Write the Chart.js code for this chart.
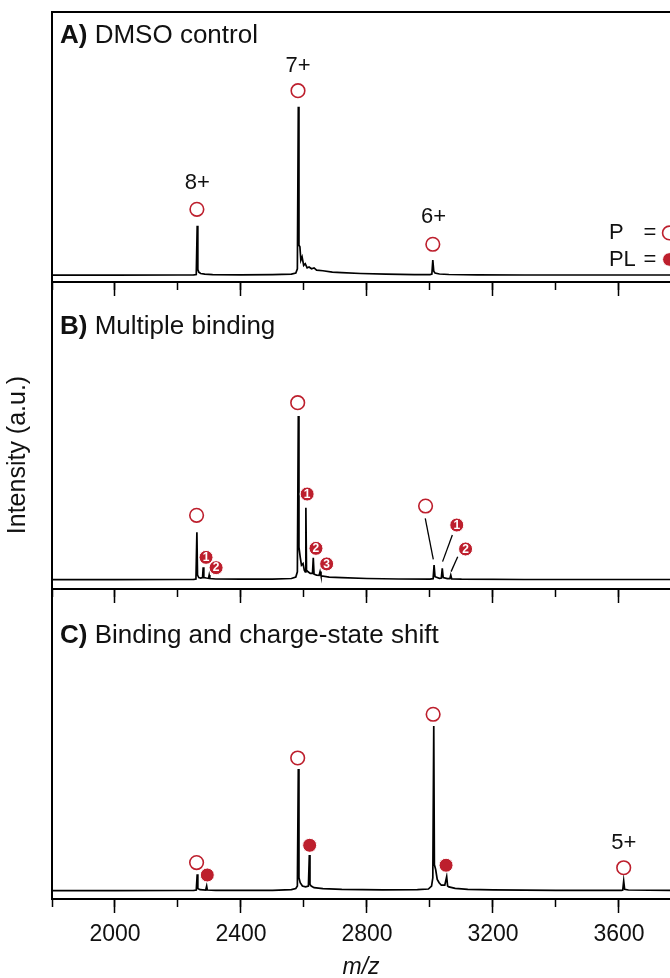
<!DOCTYPE html>
<html>
<head>
<meta charset="utf-8">
<script src="https://cdn.jsdelivr.net/npm/chart.js@4.4.1/dist/chart.umd.min.js"></script>
<style>
  html, body { margin: 0; padding: 0; background: #fff; }
  #wrap { position: relative; width: 670px; height: 978px; overflow: hidden; background: #fff; }
  #wrap canvas { position: absolute; left: 0; top: 0; }
</style>
</head>
<body>
<div id="wrap">
  <canvas id="panelA" width="670" height="978"></canvas>
  <canvas id="panelB" width="670" height="978"></canvas>
  <canvas id="panelC" width="670" height="978"></canvas>
</div>
<script>
// =====================================================
// DATA
// =====================================================

// m/z axis
const MZ_MIN = 1800;
const MZ_MAX = 3762;
const majorTicks = [2000, 2400, 2800, 3200, 3600];
const minorTicks = [1800, 2000, 2200, 2400, 2600, 2800, 3000, 3200, 3400, 3600];

// A) DMSO control
const mzA = [1800, 2000, 2200, 2250, 2258, 2261, 2263, 2266, 2272, 2285,
  2310, 2400, 2500, 2560, 2574, 2579, 2582, 2584, 2587, 2590,
  2594, 2599, 2604, 2610, 2616, 2624, 2632, 2640, 2660, 2690,
  2720, 2780, 2860, 2950, 3000, 3006, 3009, 3012, 3016, 3030,
  3060, 3150, 3300, 3500, 3762];
const intA = [0.2, 0.2, 0.3, 0.4, 0.6, 29.5, 3.5, 2.0, 1.2, 0.8,
  0.5, 0.4, 0.5, 0.8, 1.5, 4, 100, 18, 17, 9,
  11, 6, 7, 4.5, 5, 4, 4.5, 3.2, 2.8, 2.0,
  1.7, 1.2, 0.8, 0.5, 0.5, 0.8, 9.2, 2.5, 1.5, 0.9,
  0.6, 0.4, 0.3, 0.3, 0.3];
const yRangeA = [-3.85, 156.1];
const openMzA = [2260, 2581, 3009];
const openIntA = [39.2, 109.5, 18.5];
const chargeTextA = ["8+", "7+", "6+"];
const chargeMzA = [2261, 2581, 3011];
const chargeIntA = [54.6, 124.1, 34.5];
const legendText = ["P", "PL"];
const legendMz = 3568;
const legendEqMz = 3698;
const legendSymMz = 3760;
const legendInt = [25.2, 9.5];

// B) Multiple binding
const mzB = [1800, 2000, 2200, 2250, 2257, 2260, 2262, 2266, 2272, 2278,
  2280, 2282, 2290, 2297, 2299, 2301, 2320, 2400, 2500, 2560,
  2574, 2579, 2582, 2584, 2588, 2592, 2597, 2601, 2604, 2606,
  2608, 2613, 2620, 2627, 2629.5, 2632, 2640, 2648, 2651, 2654,
  2680, 2720, 2800, 2900, 3000, 3010, 3013, 3016, 3030, 3036,
  3039, 3042, 3055, 3063, 3066, 3069, 3100, 3300, 3762];
const intB = [0.2, 0.2, 0.3, 0.4, 0.6, 29.1, 3, 1.5, 1.2, 1.5,
  7.7, 1.5, 1.2, 1.0, 3.0, 0.9, 0.6, 0.5, 0.5, 0.9,
  1.8, 5, 100, 20, 14, 9, 10, 6, 5, 44.1,
  6, 5, 4, 4, 13.6, 3.5, 3, 2.8, 5.1, 2.5,
  1.8, 1.4, 0.9, 0.6, 0.5, 0.8, 9.1, 2, 1.0, 1.2,
  7.1, 1.5, 0.8, 0.8, 3.0, 0.7, 0.5, 0.3, 0.3];
const yRangeB = [-5.5, 181.7];
const openMzB = [2259, 2580, 2986];
const openIntB = [39.4, 108.1, 45.1];
const boundMzB = [2289, 2321, 2610, 2638, 2672, 3085, 3113];
const boundIntB = [13.8, 7.5, 52.4, 19.3, 9.8, 33.5, 18.9];
const boundTextB = ["1", "2", "1", "2", "3", "1", "2"];
const leaderMzB = [[2985, 3010.5], [3071, 3040], [3088, 3067]];
const leaderIntB = [[37.6, 12.6], [27.4, 11.2], [14.2, 5.1]];

// C) Binding and charge-state shift
const mzC = [1800, 2000, 2200, 2250, 2258, 2261, 2263, 2270, 2288, 2291,
  2293, 2320, 2500, 2560, 2574, 2579, 2582, 2584, 2588, 2595,
  2605, 2614, 2617, 2619, 2623, 2632, 2660, 2720, 2850, 2960,
  2995, 3005, 3009, 3012, 3014, 3018, 3023, 3029, 3036, 3047,
  3053, 3056, 3060, 3080, 3120, 3200, 3400, 3608, 3612, 3615,
  3618, 3630, 3762];
const intC = [0.2, 0.2, 0.3, 0.4, 0.6, 10.1, 1.5, 0.8, 0.6, 3.0,
  0.6, 0.4, 0.4, 0.8, 1.5, 3, 73.9, 8, 5, 3,
  2.5, 3, 21.8, 4, 3, 2, 1.4, 1.0, 0.7, 0.8,
  1.2, 3, 8, 100, 16, 13, 7, 5, 3.5, 3.5,
  8.7, 3, 2.5, 1.6, 1.0, 0.7, 0.4, 0.4, 0.6, 6.1,
  1.0, 0.6, 0.4];
const yRangeC = [-4.85, 183];
const openMzC = [2259, 2580, 3010, 3615];
const openIntC = [17.2, 80.6, 107.1, 14.1];
const filledMzC = [2293, 2618, 3051];
const filledIntC = [9.7, 27.7, 15.6];
const chargeTextC = ["5+"];
const chargeMzC = [3615];
const chargeIntC = [29.3];

// =====================================================
// STYLE
// =====================================================

const FONT = '"Liberation Sans", Arial, Helvetica, sans-serif';
const RED = "#bd1f2d";
const INK = "#111";

function pts(xs, ys) {
  return xs.map((x, i) => ({ x, y: ys[i] }));
}

// =====================================================
// TEXT PLUGIN
// =====================================================

const panelText = {
  id: "panelText",
  afterDatasetsDraw(chart, args, opts) {
    const ctx = chart.ctx;
    const xs = chart.scales.x;
    const ys = chart.scales.y;
    const area = chart.chartArea;

    ctx.save();

    // panel title
    ctx.fillStyle = INK;
    ctx.textAlign = "left";
    ctx.textBaseline = "alphabetic";
    ctx.font = "bold 26px " + FONT;
    const tx = area.left + 8;
    const ty = area.top + opts.titleOffset;
    ctx.fillText(opts.tag, tx, ty);
    const w = ctx.measureText(opts.tag).width;
    ctx.font = "26px " + FONT;
    ctx.fillText(" " + opts.title, tx + w, ty);

    // charge / legend labels
    (opts.labels || []).forEach(l => {
      ctx.font = "22px " + FONT;
      ctx.textAlign = l.align || "center";
      ctx.textBaseline = "middle";
      ctx.fillStyle = INK;
      ctx.fillText(l.text, xs.getPixelForValue(l.x), ys.getPixelForValue(l.y));
    });

    // numbers on bound markers
    (opts.numbers || []).forEach(n => {
      ctx.font = "bold 12px " + FONT;
      ctx.textAlign = "center";
      ctx.textBaseline = "middle";
      ctx.fillStyle = "#fff";
      ctx.fillText(n.text, xs.getPixelForValue(n.x), ys.getPixelForValue(n.y) + 0.5);
    });

    // shared y title
    if (opts.yTitle) {
      ctx.translate(opts.yTitle.x, opts.yTitle.y);
      ctx.rotate(-Math.PI / 2);
      ctx.font = "25px " + FONT;
      ctx.textAlign = "center";
      ctx.textBaseline = "middle";
      ctx.fillStyle = INK;
      ctx.fillText(opts.yTitle.text, 0, 0);
    }

    ctx.restore();
  }
};

// =====================================================
// CHART FACTORY
// =====================================================

function makePanel(id, cfg) {

  const scales = {
    x: {
      type: "linear",
      position: "bottom",
      min: MZ_MIN,
      max: MZ_MAX,
      afterBuildTicks: s => { s.ticks = majorTicks.map(v => ({ value: v })); },
      grid: { drawOnChartArea: false, drawTicks: true, tickLength: 14, tickWidth: 1.5, tickColor: "#000" },
      border: { display: true, color: "#000", width: 2 },
      ticks: {
        display: cfg.showLabels,
        padding: 8,
        color: INK,
        maxRotation: 0,
        autoSkip: false,
        font: { family: FONT, size: 23 },
        callback: v => String(v)
      },
      title: {
        display: cfg.showLabels,
        text: "m/z",
        color: INK,
        padding: 0,
        font: { family: FONT, size: 23, style: "italic", lineHeight: 0.9 }
      }
    },
    xMinor: {
      type: "linear",
      position: { y: cfg.yRange[0] },
      min: MZ_MIN,
      max: MZ_MAX,
      afterBuildTicks: s => { s.ticks = minorTicks.map(v => ({ value: v })); },
      grid: { drawOnChartArea: false, drawTicks: true, tickLength: 8, tickWidth: 1.5, tickColor: "#000" },
      border: { display: false },
      ticks: { display: false }
    },
    y: {
      type: "linear",
      position: "left",
      min: cfg.yRange[0],
      max: cfg.yRange[1],
      grid: { drawOnChartArea: false, drawTicks: false },
      border: { display: true, color: "#000", width: 2 },
      ticks: { display: false }
    }
  };

  if (cfg.topBorder) {
    scales.xTop = {
      type: "linear",
      position: "top",
      min: MZ_MIN,
      max: MZ_MAX,
      grid: { drawOnChartArea: false, drawTicks: false },
      border: { display: true, color: "#000", width: 2 },
      ticks: { display: false }
    };
  }

  if (cfg.showLabels) {
    scales.x.afterFit = s => { s.height = 978 - cfg.bottom; };
  }

  return new Chart(document.getElementById(id), {
    type: "scatter",
    data: { datasets: cfg.datasets },
    options: {
      responsive: false,
      animation: false,
      devicePixelRatio: 1,
      events: [],
      layout: {
        autoPadding: false,
        padding: {
          left: 52,
          right: 0,
          top: cfg.top,
          bottom: cfg.showLabels ? 0 : 978 - cfg.bottom - 14
        }
      },
      plugins: {
        legend: { display: false },
        tooltip: { enabled: false },
        panelText: cfg.text
      },
      scales
    },
    plugins: [panelText]
  });
}

function openSet(xs, ys) {
  return {
    data: pts(xs, ys),
    xAxisID: "x",
    yAxisID: "y",
    pointStyle: "circle",
    pointRadius: 6.8,
    borderWidth: 1.6,
    pointBorderColor: RED,
    pointBackgroundColor: "#fff",
    clip: false
  };
}

function filledSet(xs, ys, r) {
  return {
    data: pts(xs, ys),
    xAxisID: "x",
    yAxisID: "y",
    pointStyle: "circle",
    pointRadius: r,
    borderWidth: 1,
    pointBorderColor: "#fff",
    pointBackgroundColor: RED,
    clip: false
  };
}

function lineSet(xs, ys, width) {
  return {
    data: pts(xs, ys),
    xAxisID: "x",
    yAxisID: "y",
    showLine: true,
    pointRadius: 0,
    borderColor: "#000",
    borderWidth: width,
    tension: 0
  };
}

// =====================================================
// PANELS
// =====================================================

makePanel("panelA", {
  top: 12,
  bottom: 282,
  yRange: yRangeA,
  topBorder: true,
  showLabels: false,
  datasets: [
    openSet(openMzA.concat([legendSymMz]), openIntA.concat([legendInt[0]])),
    filledSet([legendSymMz], [legendInt[1]], 6.8),
    lineSet(mzA, intA, 1.7)
  ],
  text: {
    tag: "A)",
    title: "DMSO control",
    titleOffset: 31,
    labels: chargeTextA.map((t, i) => ({ text: t, x: chargeMzA[i], y: chargeIntA[i] }))
      .concat(legendText.map((t, i) => ({ text: t, x: legendMz, y: legendInt[i], align: "left" })))
      .concat(legendText.map((t, i) => ({ text: "=", x: legendEqMz, y: legendInt[i] })))
  }
});

makePanel("panelB", {
  top: 282,
  bottom: 589,
  yRange: yRangeB,
  topBorder: false,
  showLabels: false,
  datasets: [
    filledSet(boundMzB, boundIntB, 7),
    openSet(openMzB, openIntB),
    ...leaderMzB.map((m, i) => lineSet(m, leaderIntB[i], 1.3)),
    lineSet(mzB, intB, 1.7)
  ],
  text: {
    tag: "B)",
    title: "Multiple binding",
    titleOffset: 52,
    numbers: boundTextB.map((t, i) => ({ text: t, x: boundMzB[i], y: boundIntB[i] }))
  }
});

makePanel("panelC", {
  top: 589,
  bottom: 899,
  yRange: yRangeC,
  topBorder: false,
  showLabels: true,
  datasets: [
    filledSet(filledMzC, filledIntC, 7),
    openSet(openMzC, openIntC),
    lineSet(mzC, intC, 1.7)
  ],
  text: {
    tag: "C)",
    title: "Binding and charge-state shift",
    titleOffset: 54,
    labels: chargeTextC.map((t, i) => ({ text: t, x: chargeMzC[i], y: chargeIntC[i] })),
    yTitle: { text: "Intensity (a.u.)", x: 18, y: 455 }
  }
});
</script>
</body>
</html>
